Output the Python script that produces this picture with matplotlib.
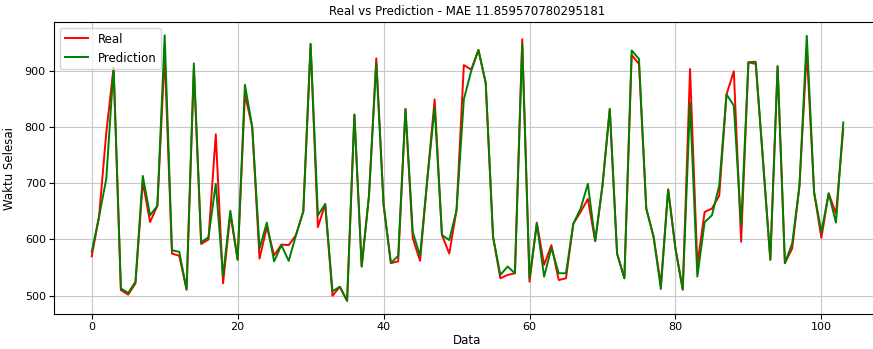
import matplotlib
matplotlib.use("Agg")
import matplotlib.pyplot as plt

# nilai real vs prediksi
real = [570, 640, 790, 906, 510, 502, 522, 702, 631, 660,
        928, 575, 571, 511, 902, 592, 600, 787, 522, 645,
        564, 858, 800, 566, 622, 572, 591, 590, 608, 650,
        946, 622, 663, 500, 516, 491, 822, 552, 678, 922,
        662, 558, 561, 832, 602, 562, 708, 849, 608, 575,
        652, 910, 902, 937, 878, 605, 531, 537, 540, 956,
        525, 630, 555, 590, 528, 531, 628, 649, 672, 597,
        696, 832, 575, 531, 928, 912, 655, 605, 520, 689,
        584, 511, 903, 555, 649, 655, 678, 858, 899, 596,
        915, 912, 740, 564, 908, 558, 584, 696, 935, 684,
        603, 682, 646, 796]
pred = [578, 640, 708, 906, 513, 505, 525, 713, 643, 660,
        963, 581, 578, 511, 913, 595, 604, 699, 535, 651,
        564, 875, 800, 584, 630, 561, 590, 562, 608, 650,
        948, 643, 663, 508, 516, 491, 822, 552, 678, 914,
        662, 558, 571, 832, 613, 571, 708, 835, 608, 599,
        652, 849, 899, 937, 878, 605, 537, 552, 540, 948,
        531, 628, 534, 585, 540, 540, 628, 655, 699, 597,
        696, 832, 575, 531, 936, 921, 655, 605, 512, 689,
        584, 511, 843, 534, 631, 643, 696, 858, 838, 625,
        915, 916, 740, 564, 908, 558, 593, 696, 962, 684,
        613, 682, 630, 808]
mae = 11.859570780295181

plt.rcParams['font.size'] = 8.5
fig = plt.figure(figsize=(8.73, 3.49), dpi=100)
ax = fig.add_axes([0.062, 0.1, 0.947, 0.837])
ax.plot(real, color='red', linewidth=1.4, label='Real')
ax.plot(pred, color='green', linewidth=1.4, label='Prediction')
ax.set_title('Real vs Prediction - MAE ' + str(mae), fontsize=8.5, pad=5)
ax.set_xlabel('Data', labelpad=1)
ax.set_ylabel('Waktu Selesai', labelpad=6)
ax.tick_params(labelsize=8, pad=2.5)
ax.legend(loc='upper left')
ax.grid(True, color='#c8c8c8')
fig.savefig('out.png', dpi=100)
